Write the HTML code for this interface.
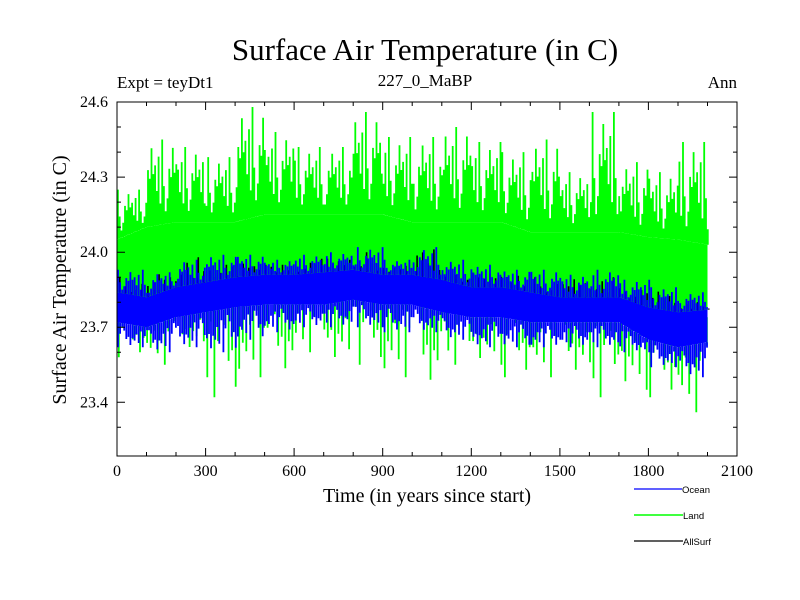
<!DOCTYPE html>
<html><head><meta charset="utf-8">
<style>
body{margin:0;background:#fff;}
svg{display:block;font-family:"Liberation Serif",serif;}
</style></head>
<body>
<svg id="chart" width="800" height="600" viewBox="0 0 800 600">
<rect width="800" height="600" fill="#fff"/>
<text x="425" y="60" font-size="31" text-anchor="middle">Surface Air Temperature (in C)</text>
<text x="117" y="88" font-size="17">Expt = teyDt1</text>
<text x="425" y="86" font-size="17" text-anchor="middle">227_0_MaBP</text>
<text x="737" y="88" font-size="17" text-anchor="end">Ann</text>
<text transform="translate(66,280) rotate(-90)" font-size="20" text-anchor="middle">Surface Air Temperature (in C)</text>
<text x="427" y="502" font-size="20" text-anchor="middle">Time (in years since start)</text>
<g id="plot"></g>
<g id="axes"></g>
<g font-family="Liberation Sans, sans-serif" font-size="9.5">
 <g><line x1="634" y1="489" x2="682" y2="489" stroke="#0000ff" stroke-width="1.2"/><text x="682" y="493">Ocean</text></g>
 <g><line x1="634" y1="515" x2="683" y2="515" stroke="#00ff00" stroke-width="1.5"/><text x="683" y="519">Land</text></g>
 <g><line x1="634" y1="541" x2="683" y2="541" stroke="#000" stroke-width="1.2"/><text x="683" y="545">AllSurf</text></g>
</g>
</svg>
<script>
const bandYears=[0,100,200,300,400,500,600,700,800,900,1000,1100,1200,1300,1400,1500,1600,1700,1800,1900,2000];
const landHi=[24.05,24.1,24.12,24.12,24.12,24.15,24.15,24.15,24.15,24.15,24.12,24.12,24.12,24.12,24.08,24.08,24.08,24.08,24.06,24.05,24.03];
const landLo=[23.8,23.77,23.8,23.82,23.84,23.86,23.86,23.86,23.86,23.86,23.86,23.84,23.82,23.82,23.8,23.8,23.8,23.8,23.75,23.72,23.74];
const oceanHi=[23.84,23.82,23.86,23.88,23.9,23.91,23.91,23.92,23.93,23.91,23.91,23.89,23.86,23.86,23.84,23.82,23.82,23.82,23.78,23.76,23.77];
const oceanLo=[23.72,23.7,23.74,23.76,23.78,23.79,23.79,23.79,23.81,23.79,23.79,23.76,23.74,23.74,23.72,23.72,23.72,23.72,23.65,23.62,23.64];
const landMax=[24.25,24.45,24.42,24.38,24.58,24.48,24.42,24.42,24.56,24.46,24.46,24.5,24.44,24.4,24.45,24.32,24.56,24.36,24.32,24.44];
const landMin=[23.58,23.55,23.6,23.42,23.5,23.5,23.6,23.55,23.55,23.5,23.45,23.55,23.55,23.5,23.5,23.5,23.42,23.45,23.42,23.36];
const oceanMax=[23.93,23.92,23.97,23.99,23.99,23.97,23.99,24.0,24.02,23.97,24.02,23.97,23.95,23.93,23.93,23.91,23.93,23.89,23.86,23.84];
const oceanMin=[23.62,23.6,23.62,23.6,23.65,23.68,23.7,23.7,23.7,23.68,23.68,23.65,23.62,23.62,23.62,23.62,23.62,23.6,23.54,23.5];
const allMax=[23.9,23.92,23.98,23.98,23.96,23.95,23.98,23.98,24.0,23.95,24.04,23.95,23.92,23.92,23.9,23.9,23.9,23.88,23.85,23.8];
const xTicks=[0,300,600,900,1200,1500,1800,2100];
const yTicks=[23.4,23.7,24.0,24.3,24.6];

const X0=117,X1=737,Y0=102,Y1=456,VMAX=24.6,VMIN=23.4-54/(302/1.2);
const xs=v=>X0+(v/2100)*(X1-X0);
const ys=v=>Y0+(VMAX-v)/(VMAX-VMIN)*(Y1-Y0);
const NS="http://www.w3.org/2000/svg";
const plot=document.getElementById('plot'),axes=document.getElementById('axes');
function mk(t,a,p){const e=document.createElementNS(NS,t);for(const k in a)e.setAttribute(k,a[k]);p.appendChild(e);return e;}
function interp(arr,yr){const i=Math.min(Math.floor(yr/100),19);const f=(yr-i*100)/100;return arr[i]*(1-f)+arr[i+1]*f;}
const fr=[1,0.55,0.8,0.3,0.7,0.45,0.9,0.25,0.65,0.4,0.15,0.6];
function spikes(base,maxArr,color,name,w,step){
  let d='';
  for(let yr=0;yr<2000;yr+=step){
    const bin=Math.floor(yr/100);const k=Math.round(yr/step);
    const b=interp(base,yr+step/2);const e=maxArr[bin];
    const v=b+(e-b)*fr[(k*5+bin*7)%fr.length];
    const x=xs(yr+step/2).toFixed(1);
    d+=`M${x},${ys(b).toFixed(1)}V${ys(v).toFixed(1)}`;
  }
  const p=mk('path',{d:d,stroke:color,'stroke-width':w,fill:'none'},plot);
  
  
}
function band(hi,lo,color,name){
  let pts=[];
  for(let i=0;i<bandYears.length;i++)pts.push(xs(bandYears[i]).toFixed(1)+','+ys(hi[i]).toFixed(1));
  for(let i=bandYears.length-1;i>=0;i--)pts.push(xs(bandYears[i]).toFixed(1)+','+ys(lo[i]).toFixed(1));
  const p=mk('polygon',{points:pts.join(' '),fill:color},plot);
  
  
}
band(landHi,landLo,'#00ff00','land-band');
spikes(landHi,landMax,'#00ff00','land-spikes-high',1.8,6);
spikes(landLo,landMin,'#00ff00','land-spikes-low',1.8,12);
spikes(oceanHi,allMax,'#000','allsurf-spikes',1.6,19);
band(oceanHi,oceanLo,'#0000ff','ocean-band');
spikes(oceanHi,oceanMax,'#0000ff','ocean-spikes-high',1.8,7);
spikes(oceanLo,oceanMin,'#0000ff','ocean-spikes-low',1.8,7);

const fr2=mk('rect',{x:X0,y:Y0,width:X1-X0,height:Y1-Y0,fill:'none',stroke:'#000','stroke-width':1},axes);


let td='';
for(let v=0;v<=2100;v+=100){const x=xs(v).toFixed(1);const L=(v%300===0)?8:4;td+=`M${x},${Y1}v${-L}M${x},${Y0}v${L}`;}
for(let k=0;k<=12;k++){const v=23.4+k*0.1;const y=ys(v).toFixed(1);const L=(k%3===0)?8:4;td+=`M${X0},${y}h${L}M${X1},${y}h${-L}`;}
{const y=ys(23.3).toFixed(1);td+=`M${X0},${y}h4M${X1},${y}h-4`;}
const tk=mk('path',{d:td,stroke:'#000','stroke-width':1,fill:'none'},axes);


xTicks.forEach(v=>{const t=mk('text',{x:xs(v),y:476,'font-size':16,'text-anchor':'middle'},axes);t.textContent=String(v);

});
yTicks.forEach(v=>{const t=mk('text',{x:108,y:ys(v)+5,'font-size':16,'text-anchor':'end'},axes);t.textContent=v.toFixed(1);

});
</script>
</body></html>
